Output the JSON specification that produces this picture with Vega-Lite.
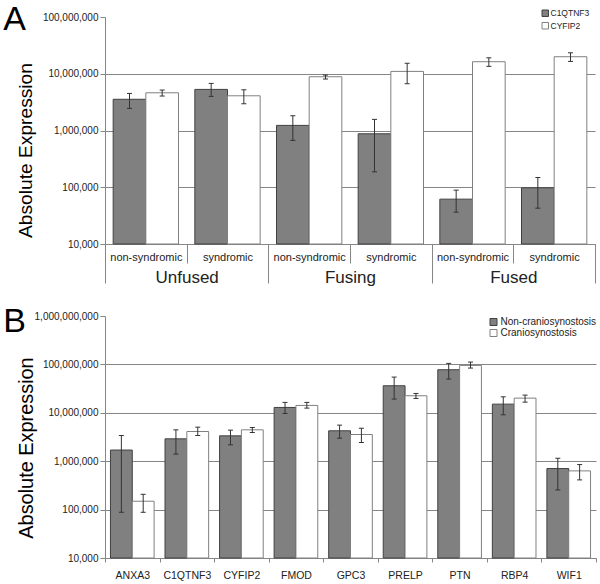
{
  "$schema": "https://vega.github.io/schema/vega-lite/v6.json",
  "padding": {"left": 3, "top": 3, "right": 4, "bottom": 0},
  "spacing": 72,
  "bounds": "flush",
  "resolve": {"scale": {"xOffset": "independent", "fill": "independent", "stroke": "independent"}, "legend": {"fill": "independent", "stroke": "independent"}},
  "config": {"font": "Liberation Sans", "view": {"stroke": null}},
  "datasets": {
    "a": [
      {"group": "Unfused", "cat": "Unfused|non-syndromic", "series": "C1QTNF3", "value": 3550000, "lo": 2450000, "hi": 4500000},
      {"group": "Unfused", "cat": "Unfused|non-syndromic", "series": "CYFIP2", "value": 4620000, "lo": 4050000, "hi": 5160000},
      {"group": "Unfused", "cat": "Unfused|syndromic", "series": "C1QTNF3", "value": 5300000, "lo": 3990000, "hi": 6760000},
      {"group": "Unfused", "cat": "Unfused|syndromic", "series": "CYFIP2", "value": 4090000, "lo": 2960000, "hi": 5220000},
      {"group": "Fusing", "cat": "Fusing|non-syndromic", "series": "C1QTNF3", "value": 1230000, "lo": 670000, "hi": 1820000},
      {"group": "Fusing", "cat": "Fusing|non-syndromic", "series": "CYFIP2", "value": 8850000, "lo": 8070000, "hi": 9480000},
      {"group": "Fusing", "cat": "Fusing|syndromic", "series": "C1QTNF3", "value": 875000, "lo": 187000, "hi": 1570000},
      {"group": "Fusing", "cat": "Fusing|syndromic", "series": "CYFIP2", "value": 11000000, "lo": 6670000, "hi": 15300000},
      {"group": "Fused", "cat": "Fused|non-syndromic", "series": "C1QTNF3", "value": 61700, "lo": 36400, "hi": 88900},
      {"group": "Fused", "cat": "Fused|non-syndromic", "series": "CYFIP2", "value": 16300000, "lo": 13500000, "hi": 19100000},
      {"group": "Fused", "cat": "Fused|syndromic", "series": "C1QTNF3", "value": 97700, "lo": 42800, "hi": 148600},
      {"group": "Fused", "cat": "Fused|syndromic", "series": "CYFIP2", "value": 19950000, "lo": 16500000, "hi": 23400000}
    ],
    "b": [
      {"gene": "ANXA3", "series": "Non-craniosynostosis", "value": 1700000, "lo": 88000, "hi": 3400000},
      {"gene": "ANXA3", "series": "Craniosynostosis", "value": 149000, "lo": 88000, "hi": 207000},
      {"gene": "C1QTNF3", "series": "Non-craniosynostosis", "value": 2900000, "lo": 1400000, "hi": 4450000},
      {"gene": "C1QTNF3", "series": "Craniosynostosis", "value": 4110000, "lo": 3400000, "hi": 5050000},
      {"gene": "CYFIP2", "series": "Non-craniosynostosis", "value": 3340000, "lo": 2180000, "hi": 4380000},
      {"gene": "CYFIP2", "series": "Craniosynostosis", "value": 4450000, "lo": 3920000, "hi": 4970000},
      {"gene": "FMOD", "series": "Non-craniosynostosis", "value": 12900000, "lo": 9700000, "hi": 16400000},
      {"gene": "FMOD", "series": "Craniosynostosis", "value": 14200000, "lo": 12500000, "hi": 16400000},
      {"gene": "GPC3", "series": "Non-craniosynostosis", "value": 4250000, "lo": 2990000, "hi": 5560000},
      {"gene": "GPC3", "series": "Craniosynostosis", "value": 3560000, "lo": 2430000, "hi": 4820000},
      {"gene": "PRELP", "series": "Non-craniosynostosis", "value": 36200000, "lo": 19200000, "hi": 54700000},
      {"gene": "PRELP", "series": "Craniosynostosis", "value": 22500000, "lo": 19800000, "hi": 25100000},
      {"gene": "PTN", "series": "Non-craniosynostosis", "value": 77600000, "lo": 49800000, "hi": 105000000},
      {"gene": "PTN", "series": "Craniosynostosis", "value": 95300000, "lo": 84000000, "hi": 111700000},
      {"gene": "RBP4", "series": "Non-craniosynostosis", "value": 15100000, "lo": 9100000, "hi": 21400000},
      {"gene": "RBP4", "series": "Craniosynostosis", "value": 20100000, "lo": 16600000, "hi": 23200000},
      {"gene": "WIF1", "series": "Non-craniosynostosis", "value": 705000, "lo": 255000, "hi": 1150000},
      {"gene": "WIF1", "series": "Craniosynostosis", "value": 631000, "lo": 411000, "hi": 853000}
    ]
  },
  "vconcat": [
    {
      "width": 490,
      "height": 227,
      "data": {"name": "a"},
      "title": {"text": "A", "anchor": "start", "frame": "group", "orient": "top", "fontSize": 34, "fontWeight": "normal", "color": "#000", "baseline": "alphabetic", "offset": -30.3, "dx": -101.7, "dy": 25},
      "resolve": {"scale": {"x": "independent"}, "axis": {"x": "independent"}},
      "layer": [
        {
          "encoding": {
            "x": {"field": "cat", "type": "nominal", "sort": ["Unfused|non-syndromic", "Unfused|syndromic", "Fusing|non-syndromic", "Fusing|syndromic", "Fused|non-syndromic", "Fused|syndromic"], "scale": {"paddingInner": 0, "paddingOuter": 0},
              "axis": {"orient": "bottom", "title": null, "labelExpr": "split(datum.value, '|')[1]", "tickBand": "extent", "tickSize": 19, "tickColor": "#868686", "domainColor": "#868686", "labelFontSize": 11, "labelColor": "#222", "labelPadding": -5.3, "labelBaseline": "middle", "labelAngle": 0, "labelOverlap": false, "grid": false}},
            "xOffset": {"field": "series", "type": "nominal", "sort": ["C1QTNF3", "CYFIP2"], "scale": {"paddingOuter": 0.25, "paddingInner": 0}}
          },
          "layer": [
            {
              "mark": {"type": "bar", "strokeWidth": 1},
              "encoding": {
                "y": {"field": "value", "type": "quantitative", "title": "Absolute Expression", "scale": {"type": "log", "domain": [10000, 100000000], "nice": false},
                  "axis": {"orient": "left", "values": [10000, 100000, 1000000, 10000000, 100000000], "format": ",", "tickSize": 5, "tickColor": "#868686", "domainColor": "#868686", "labelFontSize": 10, "labelPadding": 2, "labelColor": "#222", "labelFlush": false, "labelOverlap": false, "grid": true, "gridColor": "#868686", "gridOpacity": {"condition": {"test": "datum.value >= 100000000", "value": 0}, "value": 1}, "title": "Absolute Expression", "titleFontSize": 19.2, "titleFontWeight": "normal", "titleColor": "#000", "titleX": -80, "titleY": 133, "titleAngle": -90, "titleAlign": "center", "titleBaseline": "middle"}},
                "y2": {"datum": 10000},
                "fill": {"field": "series", "type": "nominal", "scale": {"domain": ["C1QTNF3", "CYFIP2"], "range": ["#808080", "#ffffff"]},
                  "legend": {"orient": "none", "legendX": 436, "legendY": -8, "title": null, "symbolType": "square", "symbolSize": 42, "symbolStrokeWidth": 1, "labelFontSize": 8.5, "labelColor": "#222", "labelOffset": 1, "rowPadding": 1.5, "padding": 0}},
                "stroke": {"field": "series", "type": "nominal", "scale": {"domain": ["C1QTNF3", "CYFIP2"], "range": ["#404040", "#808080"]},
                  "legend": {"orient": "none", "legendX": 436, "legendY": -8, "title": null, "symbolType": "square", "symbolSize": 42, "symbolStrokeWidth": 1, "labelFontSize": 8.5, "labelColor": "#222", "labelOffset": 1, "rowPadding": 1.5, "padding": 0}}
              }
            },
            {
              "mark": {"type": "rule", "color": "#333", "strokeWidth": 1},
              "encoding": {"y": {"field": "lo", "type": "quantitative", "title": "Absolute Expression"}, "y2": {"field": "hi"}}
            },
            {
              "mark": {"type": "tick", "color": "#333", "size": 5, "thickness": 1, "opacity": 1},
              "encoding": {"y": {"field": "hi", "type": "quantitative", "title": "Absolute Expression"}}
            },
            {
              "mark": {"type": "tick", "color": "#333", "size": 5, "thickness": 1, "opacity": 1},
              "encoding": {"y": {"field": "lo", "type": "quantitative", "title": "Absolute Expression"}}
            }
          ]
        },
        {
          "mark": {"type": "bar", "opacity": 0},
          "encoding": {
            "x": {"field": "group", "type": "nominal", "sort": ["Unfused", "Fusing", "Fused"], "scale": {"paddingInner": 0, "paddingOuter": 0},
              "axis": {"orient": "bottom", "title": null, "tickBand": "extent", "tickSize": 39, "tickColor": "#868686", "domain": false, "labelFontSize": 17, "labelPadding": -6, "labelBaseline": "middle", "labelAngle": 0, "labelColor": "#222", "labelOverlap": false, "grid": false}}
          }
        }
      ]
    },
    {
      "width": 491,
      "height": 242,
      "data": {"name": "b"},
      "title": {"text": "B", "anchor": "start", "frame": "group", "orient": "top", "fontSize": 34, "fontWeight": "normal", "color": "#000", "baseline": "alphabetic", "offset": -35, "dx": -101.7, "dy": 20},
      "encoding": {
        "x": {"field": "gene", "type": "nominal", "sort": ["ANXA3", "C1QTNF3", "CYFIP2", "FMOD", "GPC3", "PRELP", "PTN", "RBP4", "WIF1"], "scale": {"paddingInner": 0, "paddingOuter": 0},
          "axis": {"orient": "bottom", "title": null, "tickBand": "extent", "tickSize": 4, "tickColor": "#868686", "domainColor": "#868686", "labelFontSize": 10.5, "labelColor": "#222", "labelPadding": 13.7, "labelBaseline": "middle", "labelAngle": 0, "labelOverlap": false, "grid": false}},
        "xOffset": {"field": "series", "type": "nominal", "sort": ["Non-craniosynostosis", "Craniosynostosis"], "scale": {"paddingOuter": 0.25, "paddingInner": 0}}
      },
      "layer": [
        {
          "mark": {"type": "bar", "strokeWidth": 1},
          "encoding": {
            "y": {"field": "value", "type": "quantitative", "title": "Absolute Expression", "scale": {"type": "log", "domain": [10000, 1000000000], "nice": false},
              "axis": {"orient": "left", "values": [10000, 100000, 1000000, 10000000, 100000000, 1000000000], "format": ",", "tickSize": 5, "tickColor": "#868686", "domainColor": "#868686", "labelFontSize": 10, "labelPadding": 2, "labelColor": "#222", "labelFlush": false, "labelOverlap": false, "grid": true, "gridColor": "#868686", "gridOpacity": {"condition": {"test": "datum.value >= 1000000000", "value": 0}, "value": 1}, "title": "Absolute Expression", "titleFontSize": 19.9, "titleFontWeight": "normal", "titleColor": "#000", "titleX": -78.5, "titleY": 131.5, "titleAngle": -90, "titleAlign": "center", "titleBaseline": "middle"}},
            "y2": {"datum": 10000},
            "fill": {"field": "series", "type": "nominal", "scale": {"domain": ["Non-craniosynostosis", "Craniosynostosis"], "range": ["#808080", "#ffffff"]},
              "legend": {"orient": "none", "legendX": 383.5, "legendY": 1, "title": null, "symbolType": "square", "symbolSize": 49, "symbolStrokeWidth": 1, "labelFontSize": 10, "labelColor": "#222", "labelOffset": 2, "rowPadding": -2, "padding": 0}},
            "stroke": {"field": "series", "type": "nominal", "scale": {"domain": ["Non-craniosynostosis", "Craniosynostosis"], "range": ["#404040", "#808080"]},
              "legend": {"orient": "none", "legendX": 383.5, "legendY": 1, "title": null, "symbolType": "square", "symbolSize": 49, "symbolStrokeWidth": 1, "labelFontSize": 10, "labelColor": "#222", "labelOffset": 2, "rowPadding": -2, "padding": 0}}
          }
        },
        {
          "mark": {"type": "rule", "color": "#333", "strokeWidth": 1},
          "encoding": {"y": {"field": "lo", "type": "quantitative", "title": "Absolute Expression"}, "y2": {"field": "hi"}}
        },
        {
          "mark": {"type": "tick", "color": "#333", "size": 5, "thickness": 1, "opacity": 1},
          "encoding": {"y": {"field": "hi", "type": "quantitative", "title": "Absolute Expression"}}
        },
        {
          "mark": {"type": "tick", "color": "#333", "size": 5, "thickness": 1, "opacity": 1},
          "encoding": {"y": {"field": "lo", "type": "quantitative", "title": "Absolute Expression"}}
        }
      ]
    }
  ]
}
